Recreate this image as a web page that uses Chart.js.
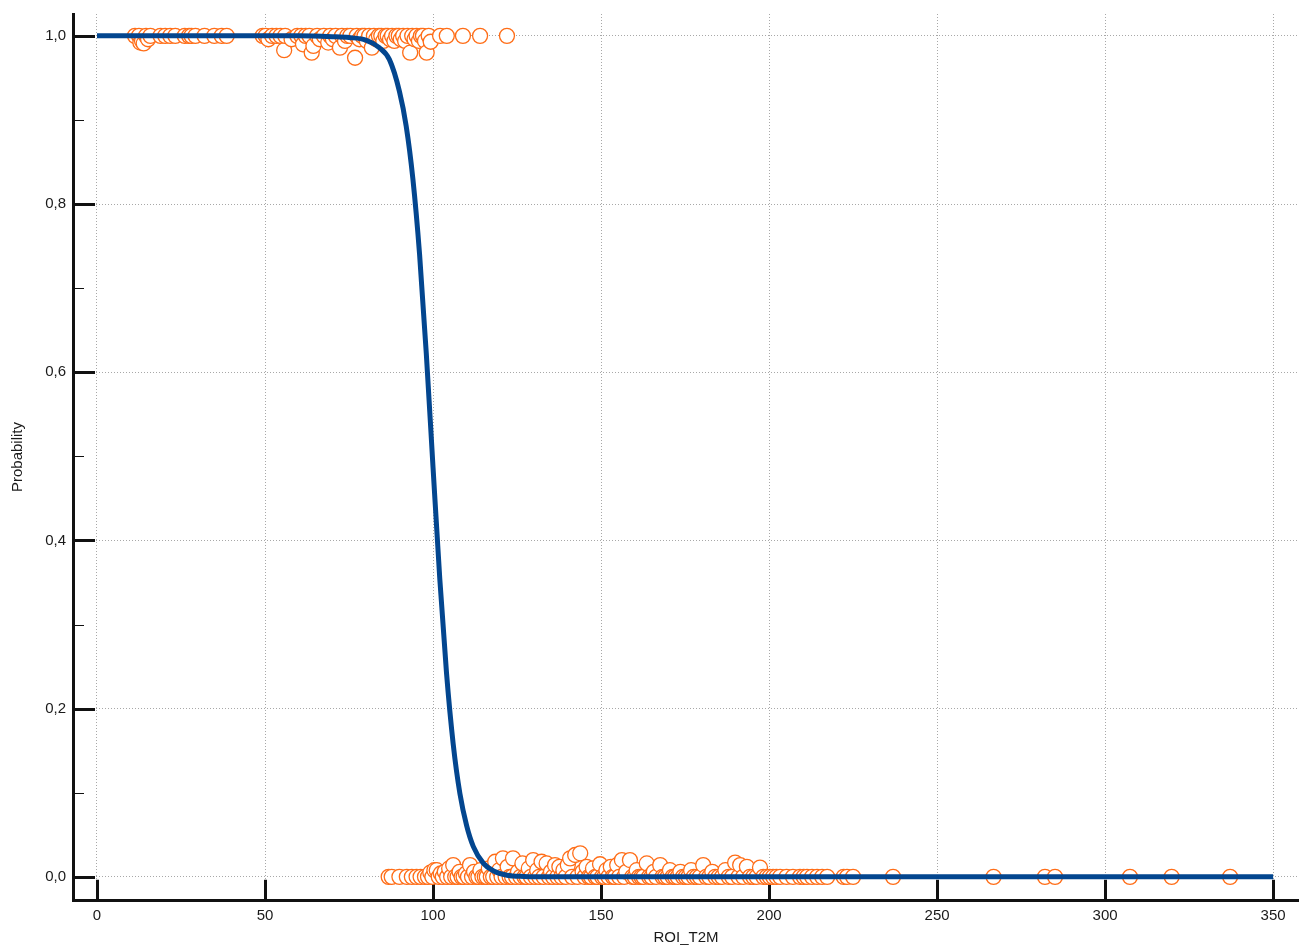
<!DOCTYPE html>
<html lang="en">
<head>
<meta charset="utf-8">
<title>ROI_T2M probability</title>
<script src="https://cdn.jsdelivr.net/npm/chart.js@4.4.1/dist/chart.umd.min.js"></script>
<style>
  html, body { margin: 0; padding: 0; background: #fff; }
</style>
</head>
<body>
<canvas id="myChart" width="1299" height="948"></canvas>

<script>
// axis ticks
const xTicks = [0, 50, 100, 150, 200, 250, 300, 350];
const yTicks = [0, 0.2, 0.4, 0.6, 0.8, 1.0];
const yMinorTicks = [0.1, 0.3, 0.5, 0.7, 0.9];

// observed cases, outcome = 1 (slightly jittered down)
const upperX = [11.3, 12.5, 12.9, 13.4, 13.9, 14.6, 15.2, 15.9, 18.9, 20.3, 21.8, 23.3, 26.1, 27.4, 28.1, 29.3, 32.0, 34.9, 37.1, 38.6,
  49.3, 50.2, 51.0, 52.1, 53.4, 54.6, 55.7, 56.0, 57.9, 59.6, 60.8, 61.3, 62.1, 63.2, 63.9, 64.4, 65.5, 66.3, 67.5, 68.8,
  69.4, 70.2, 71.0, 72.3, 72.9, 73.8, 74.5, 75.4, 76.8, 77.3, 78.1, 78.9, 79.6, 80.3, 81.0, 81.8, 82.4, 83.1, 83.9, 84.6,
  85.2, 85.9, 86.5, 87.2, 87.8, 88.5, 89.1, 89.8, 90.4, 91.1, 91.7, 92.4, 93.2, 93.8, 94.5, 95.1, 95.8, 96.4, 97.0, 97.6,
  98.1, 98.7, 99.3, 102.1, 104.1, 108.9, 114.0, 122.0];
const upperY = [1.0, 1.0, 0.992, 0.994, 0.991, 1.0, 0.996, 1.0, 1.0, 1.0, 1.0, 1.0, 1.0, 1.0, 1.0, 1.0, 1.0, 1.0, 1.0, 1.0,
  1.0, 1.0, 0.996, 1.0, 1.0, 1.0, 0.983, 1.0, 0.996, 1.0, 1.0, 0.990, 1.0, 1.0, 0.980, 0.988, 1.0, 0.996, 1.0, 0.992,
  1.0, 0.996, 1.0, 0.986, 1.0, 0.994, 1.0, 1.0, 0.974, 1.0, 0.996, 1.0, 1.0, 0.994, 1.0, 0.986, 1.0, 0.996, 1.0, 1.0,
  0.994, 1.0, 1.0, 0.996, 1.0, 0.994, 1.0, 1.0, 0.996, 1.0, 0.994, 1.0, 0.980, 1.0, 0.996, 1.0, 0.994, 1.0, 1.0, 0.994,
  0.980, 1.0, 0.993, 1.0, 1.0, 1.0, 1.0, 1.0];

// observed cases, outcome = 0 (slightly jittered up)
const lowerX = [86.8, 87.7, 90.0, 92.2, 93.7, 95.1, 96.3, 97.6, 98.5, 99.2, 99.8, 100.4, 101.1, 101.7, 102.3, 102.9, 103.5, 104.2, 104.8, 105.4,
  106.0, 106.6, 107.3, 107.9, 108.5, 109.1, 109.8, 110.4, 111.0, 111.6, 112.2, 112.9, 113.5, 114.1, 114.7, 115.4, 116.0, 116.6, 117.2, 117.9,
  118.5, 119.1, 119.7, 120.4, 120.8, 121.6, 122.2, 122.8, 123.5, 123.8, 124.7, 125.3, 126.0, 126.6, 127.2, 127.8, 128.5, 129.1, 129.8, 130.4,
  131.0, 131.6, 132.3, 132.9, 133.8, 134.5, 135.1, 135.7, 136.3, 137.0, 137.6, 138.2, 138.8, 139.5, 140.1, 140.8, 141.4, 142.3, 143.0, 143.8,
  144.5, 145.1, 145.7, 146.4, 147.0, 147.6, 148.3, 148.9, 149.7, 150.3, 151.0, 151.6, 152.2, 152.9, 153.5, 154.1, 154.8, 155.4, 156.2, 156.9,
  157.5, 158.6, 159.3, 160.0, 160.6, 161.3, 162.0, 162.6, 163.6, 164.3, 165.0, 165.7, 166.4, 167.6, 168.3, 169.0, 169.8, 170.5, 171.3, 172.0,
  172.8, 173.6, 174.4, 175.2, 176.0, 176.8, 177.6, 178.5, 179.4, 180.4, 181.3, 182.2, 183.1, 184.0, 185.0, 186.0, 187.0, 188.0, 189.0, 189.9,
  190.9, 191.4, 192.3, 193.4, 194.3, 195.3, 196.3, 197.3, 198.3, 199.3, 200.2, 201.2, 202.2, 203.3, 205.2, 207.1, 209.2, 210.3, 211.3, 212.8,
  214.3, 215.8, 217.3, 222.2, 223.2, 225.0, 236.9, 266.8, 282.1, 285.1, 307.4, 319.8, 337.2];
const lowerY = [0, 0, 0, 0, 0, 0, 0, 0, 0, 0.005, 0, 0.008, 0.008, 0, 0.004, 0, 0.006, 0, 0.010, 0,
  0.014, 0, 0, 0.006, 0, 0, 0.004, 0, 0.014, 0, 0.006, 0, 0, 0.008, 0, 0, 0, 0.010, 0, 0,
  0.018, 0, 0.008, 0, 0.022, 0, 0.012, 0, 0, 0.022, 0, 0.006, 0, 0.016, 0, 0, 0.010, 0, 0.020, 0,
  0.008, 0, 0.018, 0, 0.016, 0, 0.006, 0, 0.014, 0, 0.012, 0, 0.008, 0, 0.014, 0.022, 0, 0.026, 0, 0.028,
  0.006, 0, 0.012, 0, 0, 0.010, 0, 0, 0.015, 0, 0, 0.008, 0, 0.012, 0, 0, 0.014, 0, 0.020, 0,
  0.006, 0.020, 0, 0, 0.008, 0, 0, 0, 0.016, 0, 0, 0.006, 0, 0.014, 0, 0, 0, 0.008, 0, 0,
  0, 0.006, 0, 0, 0, 0.008, 0, 0, 0, 0.014, 0, 0, 0.006, 0, 0, 0, 0.008, 0, 0, 0.017,
  0, 0.014, 0, 0.012, 0, 0, 0, 0.011, 0, 0, 0, 0, 0, 0, 0, 0, 0, 0, 0, 0,
  0, 0, 0, 0, 0, 0, 0, 0, 0, 0, 0, 0, 0];

// fitted logistic curve
const curveX = [0, 60, 70, 75, 80, 84, 87, 90, 92, 94, 96, 98, 100, 102, 104, 106, 108, 110, 112, 115, 118, 122, 127, 135, 350];
const curveP = [1.0, 1.0, 0.999, 0.998, 0.995, 0.986, 0.972, 0.934, 0.893, 0.830, 0.740, 0.622, 0.487, 0.355, 0.243, 0.158, 0.099, 0.061, 0.036, 0.016, 0.007, 0.002, 0.0005, 0, 0];

const toPoints = (xs, ys) => xs.map((x, i) => ({ x: x, y: ys[i] }));

// black tick marks sit between the offset axes and the plotting region
const axisTicks = {
  id: 'axisTicks',
  beforeDatasetsDraw(chart) {
    const { ctx, chartArea, scales: { x, y } } = chart;
    ctx.save();
    ctx.strokeStyle = '#111';
    ctx.lineWidth = 3;
    ctx.beginPath();
    yTicks.forEach(v => {
      const py = Math.round(y.getPixelForValue(v)) + 0.5;
      ctx.moveTo(chartArea.left, py);
      ctx.lineTo(x.getPixelForValue(0) - 2, py);
    });
    xTicks.forEach(v => {
      const px = Math.round(x.getPixelForValue(v)) + 0.5;
      ctx.moveTo(px, chartArea.bottom);
      ctx.lineTo(px, y.getPixelForValue(0) + 3);
    });
    ctx.stroke();
    ctx.lineWidth = 1;
    ctx.beginPath();
    yMinorTicks.forEach(v => {
      const py = Math.round(y.getPixelForValue(v)) + 0.5;
      ctx.moveTo(chartArea.left, py);
      ctx.lineTo(chartArea.left + 11, py);
    });
    ctx.stroke();
    ctx.restore();
  }
};

Chart.defaults.font.family = 'Arial, "Liberation Sans", sans-serif';
Chart.defaults.font.size = 15;
Chart.defaults.color = '#1a1a1a';

let myChart = new Chart(document.getElementById('myChart').getContext('2d'), {
  type: 'scatter',
  data: {
    datasets: [
      {
        label: 'fit',
        data: toPoints(curveX, curveP),
        showLine: true,
        cubicInterpolationMode: 'monotone',
        borderColor: '#03468f',
        borderWidth: 5,
        pointRadius: 0,
        order: 0
      },
      {
        label: 'outcome 0',
        data: toPoints(lowerX, lowerY),
        pointRadius: 7.5,
        pointBorderWidth: 1.3,
        pointBorderColor: '#ff6d17',
        pointBackgroundColor: '#ffffff',
        order: 1
      },
      {
        label: 'outcome 1',
        data: toPoints(upperX, upperY),
        pointRadius: 7.5,
        pointBorderWidth: 1.3,
        pointBorderColor: '#ff6d17',
        pointBackgroundColor: '#ffffff',
        order: 2
      }
    ]
  },
  options: {
    responsive: false,
    animation: false,
    layout: { autoPadding: false, padding: { top: 14, right: 0, left: 0, bottom: 0 } },
    plugins: {
      legend: { display: false },
      tooltip: { enabled: false }
    },
    scales: {
      x: {
        type: 'linear',
        min: -7.14,
        max: 357.7,
        afterBuildTicks: s => { s.ticks = xTicks.map(v => ({ value: v })); },
        afterFit: s => { s.height = 48; s.paddingLeft = 0; s.paddingRight = 0; },
        grid: { color: '#a8a8a8', lineWidth: 1, drawTicks: false },
        border: { display: true, color: '#111', width: 3, dash: [1, 2] },
        ticks: { padding: 7, maxRotation: 0, autoSkip: false, callback: v => String(v) },
        title: { display: true, text: 'ROI_T2M', padding: { top: 0, bottom: 1 } }
      },
      y: {
        type: 'linear',
        min: -0.0275,
        max: 1.026,
        afterBuildTicks: s => { s.ticks = yTicks.map(v => ({ value: v })); },
        afterFit: s => { s.width = 73; s.paddingTop = 0; s.paddingBottom = 0; },
        grid: { color: '#a8a8a8', lineWidth: 1, drawTicks: false },
        border: { display: true, color: '#111', width: 3, dash: [1, 2] },
        ticks: { padding: 7, autoSkip: false, callback: v => v.toFixed(1).replace('.', ',') },
        title: { display: true, text: 'Probability', padding: { top: 9, bottom: 0 } }
      }
    }
  },
  plugins: [axisTicks]
});
</script>
</body>
</html>
